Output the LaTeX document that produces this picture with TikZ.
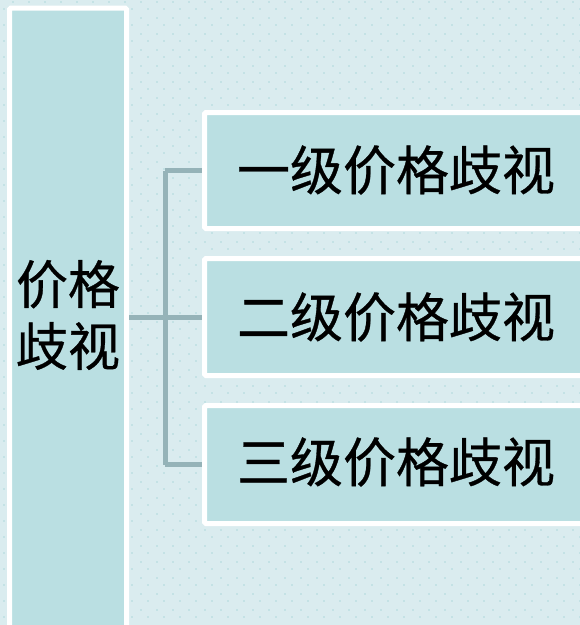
\documentclass[tikz,border=0pt]{standalone}
\usepackage{fontspec}
\newfontfamily\cjk[FakeBold=0.6]{Noto Sans CJK SC}
\definecolor{bgc}{HTML}{DAECEF}
\definecolor{dotc}{HTML}{C4E2E5}
\definecolor{boxc}{HTML}{BADFE2}
\definecolor{linec}{HTML}{95B3B8}
\tikzset{
  panel/.style={rectangle, draw=white, line width=5pt, fill=boxc, inner sep=0pt, outer sep=2.5pt, rounded corners=1.5pt},
  conn/.style={draw=linec, line width=5pt},
  bigtext/.style={font=\cjk\fontsize{53}{62}\selectfont, text=black, inner sep=0pt},
  sidetext/.style={font=\cjk\fontsize{52}{62}\selectfont, text=black, inner sep=0pt, align=center}
}
\begin{document}
\begin{tikzpicture}[x=1pt,y=-1pt]
\useasboundingbox (0,0) rectangle (580,625);
\fill[bgc] (0,0) rectangle (580,625);
\foreach \i in {4,20,...,580} {
  \foreach \j in {9,25,...,625} {
    \fill[dotc] (\i-1.2,\j-1.2) rectangle (\i+1.2,\j+1.2);
  }
}
\foreach \i in {13,29,...,580} {
  \foreach \j in {2,18,...,625} {
    \fill[dotc] (\i-1.2,\j-1.2) rectangle (\i+1.2,\j+1.2);
  }
}
% boxes
\node[panel, minimum width=117pt, minimum height=632pt] (L) at (68,324) {};
\node[panel, minimum width=395pt, minimum height=116pt] (r1) at (402,170.5) {};
\node[panel, minimum width=395pt, minimum height=117pt] (r2) at (402,317) {};
\node[panel, minimum width=395pt, minimum height=118pt] (r3) at (402,464.5) {};
\coordinate (j1) at (165,170.5);
\coordinate (j2) at (165,317);
\coordinate (j3) at (165,464.5);
% connectors
\draw[conn] (r2.west -| L.east) -- (j2);
\draw[conn] (j1) -- (j3);
\draw[conn] (j1) -- (r1.west);
\draw[conn] (j2) -- (r2.west);
\draw[conn] (j3) -- (r3.west);
% texts
\node[sidetext] (lt) at (68,315) {价格\\歧视};
\node[bigtext] (t1) at (396,170) {一级价格歧视};
\node[bigtext] (t2) at (396,317) {二级价格歧视};
\node[bigtext] (t3) at (396,462) {三级价格歧视};
\end{tikzpicture}
\end{document}
